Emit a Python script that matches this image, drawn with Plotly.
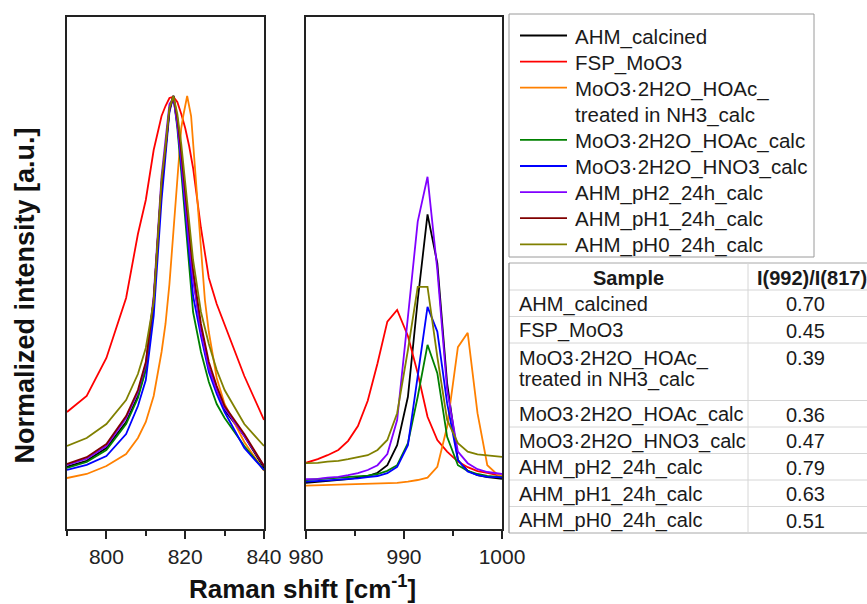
import plotly.graph_objects as go

W, H = 867, 604

# ---------------- data ----------------
names = ["AHM_calcined", "FSP_MoO3", "MoO3·2H2O_HOAc_<br>treated in NH3_calc",
         "MoO3·2H2O_HOAc_calc", "MoO3·2H2O_HNO3_calc", "AHM_pH2_24h_calc",
         "AHM_pH1_24h_calc", "AHM_pH0_24h_calc"]
colors = ["#000000", "#ff0000", "#ff8000", "#008000", "#0000ff", "#8000ff", "#800000", "#808000"]

# left panel (790-840 cm-1)
x_left = [790, 795, 800, 805, 808, 810, 812, 814, 815, 816, 817, 818, 819, 820, 821, 822, 824, 826, 828, 830, 835, 840]
left_black = [0.073, 0.088, 0.12, 0.185, 0.25, 0.32, 0.49, 0.78, 0.865, 0.965, 1.0, 0.94, 0.85, 0.74, 0.64, 0.55, 0.415, 0.32, 0.265, 0.215, 0.15, 0.07]
left_red = [0.21, 0.25, 0.345, 0.495, 0.655, 0.74, 0.865, 0.95, 0.975, 0.995, 0.998, 0.985, 0.955, 0.92, 0.875, 0.82, 0.67, 0.545, 0.48, 0.43, 0.3, 0.19]
left_green = [0.07, 0.085, 0.115, 0.18, 0.245, 0.315, 0.48, 0.78, 0.87, 0.97, 1.0, 0.92, 0.81, 0.69, 0.56, 0.46, 0.36, 0.285, 0.23, 0.195, 0.125, 0.065]
left_blue = [0.065, 0.078, 0.1, 0.155, 0.225, 0.29, 0.45, 0.74, 0.85, 0.96, 1.0, 0.93, 0.83, 0.72, 0.61, 0.5, 0.4, 0.31, 0.255, 0.21, 0.12, 0.065]
left_purple = [0.078, 0.093, 0.125, 0.195, 0.26, 0.33, 0.5, 0.8, 0.89, 0.98, 0.995, 0.93, 0.84, 0.73, 0.63, 0.54, 0.41, 0.32, 0.265, 0.22, 0.15, 0.075]
left_darkred = [0.08, 0.097, 0.13, 0.2, 0.265, 0.335, 0.49, 0.78, 0.87, 0.965, 1.0, 0.945, 0.86, 0.755, 0.655, 0.565, 0.43, 0.335, 0.275, 0.225, 0.155, 0.075]
left_olive = [0.125, 0.145, 0.18, 0.24, 0.305, 0.37, 0.485, 0.79, 0.875, 0.97, 1.0, 0.955, 0.88, 0.78, 0.68, 0.59, 0.46, 0.38, 0.315, 0.265, 0.18, 0.125]
x_left_orange = [790, 795, 800, 805, 808, 810, 812, 814, 815, 816, 817, 818, 819, 819.5, 820.5, 821.5, 823, 824, 825, 826, 828, 830, 835, 840]
left_orange = [0.045, 0.055, 0.075, 0.105, 0.145, 0.185, 0.25, 0.36, 0.43, 0.53, 0.66, 0.79, 0.92, 0.95, 1.0, 0.95, 0.74, 0.62, 0.49, 0.41, 0.295, 0.23, 0.135, 0.063]

# right panel (980-1000 cm-1)
x_right = [980.0, 981.2, 982.2, 983.3, 984.3, 985.3, 986.3, 987.3, 988.3, 989.3, 990.4, 991.4, 992.4, 993.4, 994.4, 995.5, 996.5, 997.5, 998.5, 999.6, 1000.0]
right_black = [0.033, 0.035, 0.037, 0.04, 0.042, 0.046, 0.05, 0.058, 0.077, 0.127, 0.248, 0.49, 0.704, 0.582, 0.282, 0.09, 0.063, 0.052, 0.047, 0.044, 0.043]
right_red = [0.083, 0.092, 0.102, 0.115, 0.138, 0.175, 0.238, 0.332, 0.436, 0.465, 0.4, 0.307, 0.198, 0.14, 0.111, 0.086, 0.072, 0.062, 0.058, 0.052, 0.05]
right_orange = [0.026, 0.027, 0.027, 0.028, 0.028, 0.029, 0.03, 0.031, 0.032, 0.033, 0.036, 0.04, 0.046, 0.073, 0.173, 0.372, 0.408, 0.207, 0.077, 0.052, 0.05]
right_green = [0.04, 0.042, 0.043, 0.045, 0.047, 0.048, 0.051, 0.055, 0.063, 0.077, 0.132, 0.248, 0.378, 0.307, 0.148, 0.077, 0.063, 0.055, 0.05, 0.048, 0.047]
right_blue = [0.036, 0.037, 0.039, 0.041, 0.042, 0.044, 0.047, 0.05, 0.057, 0.073, 0.127, 0.298, 0.473, 0.411, 0.232, 0.09, 0.061, 0.052, 0.048, 0.047, 0.046]
right_purple = [0.042, 0.043, 0.046, 0.048, 0.052, 0.057, 0.065, 0.077, 0.105, 0.19, 0.448, 0.686, 0.798, 0.565, 0.265, 0.111, 0.082, 0.067, 0.06, 0.057, 0.055]
right_olive = [0.082, 0.083, 0.086, 0.088, 0.092, 0.097, 0.102, 0.115, 0.14, 0.207, 0.365, 0.523, 0.523, 0.348, 0.19, 0.132, 0.111, 0.104, 0.101, 0.098, 0.098]

# table
table_samples = ["AHM_calcined", "FSP_MoO3", "MoO3·2H2O_HOAc_<br>treated in NH3_calc",
                 "MoO3·2H2O_HOAc_calc", "MoO3·2H2O_HNO3_calc", "AHM_pH2_24h_calc",
                 "AHM_pH1_24h_calc", "AHM_pH0_24h_calc"]
table_ratios = ["0.70", "0.45", "0.39", "0.36", "0.47", "0.79", "0.63", "0.51"]
table_header = ["Sample", "I(992)/I(817)"]

left_series = [(x_left, left_black), (x_left, left_red), (x_left_orange, left_orange), (x_left, left_green),
               (x_left, left_blue), (x_left, left_purple), (x_left, left_darkred), (x_left, left_olive)]
right_series = [right_black, right_red, right_orange, right_green, right_blue, right_purple, None, right_olive]

FONT = "Liberation Sans, Arial, sans-serif"
TXT = "#1a1a1a"


def px(x):
    return x / W


def py(y):
    return 1 - y / H


fig = go.Figure()
for i, (nm, col) in enumerate(zip(names, colors)):
    xs, ys = left_series[i]
    fig.add_trace(go.Scatter(x=xs, y=ys, mode="lines", name=nm.replace("<br>", ""), showlegend=False,
                             line=dict(color=col, width=1.8), xaxis="x", yaxis="y"))
for i, (nm, col) in enumerate(zip(names, colors)):
    ys = right_series[i]
    if ys is None:
        continue
    fig.add_trace(go.Scatter(x=x_right, y=ys, mode="lines", name=nm.replace("<br>", ""), showlegend=False,
                             line=dict(color=col, width=1.8), xaxis="x2", yaxis="y2"))

shapes = []
annotations = []

# ---------- legend (box, sample lines, labels) ----------
LEG_L, LEG_T, LEG_R, LEG_B = 509, 14, 814, 257
shapes.append(dict(type="rect", xref="paper", yref="paper", x0=px(LEG_L), x1=px(LEG_R), y0=py(LEG_B), y1=py(LEG_T),
                   line=dict(color="#9a9a9a", width=1), fillcolor="white", layer="above"))
row = 0
for nm, col in zip(names, colors):
    lines = nm.split("<br>")
    yc = 35.5 + 26.1 * row
    shapes.append(dict(type="line", xref="paper", yref="paper", x0=px(520), x1=px(567), y0=py(yc), y1=py(yc),
                       line=dict(color=col, width=1.8), layer="above"))
    for k, t in enumerate(lines):
        annotations.append(dict(text=t, x=px(573), y=py(35.5 + 26.1 * (row + k) + 1), xref="paper", yref="paper",
                                showarrow=False, xanchor="left", yanchor="middle",
                                font=dict(family=FONT, size=20.5, color=TXT)))
    row += len(lines)

# ---------- table ----------
TB_L, TB_T, TB_MID = 509, 263, 748
HDR_H, ROW_H, LINE_GAP = 27, 26.5, 21
edges = [TB_T, TB_T + HDR_H]
for s in table_samples:
    n = len(s.split("<br>"))
    edges.append(edges[-1] + (ROW_H if n == 1 else 57.5))
for j, e in enumerate(edges):
    outer = j in (0, len(edges) - 1)
    shapes.append(dict(type="line", xref="paper", yref="paper", x0=px(TB_L), x1=1.0, y0=py(e), y1=py(e),
                       line=dict(color="#a8a8a8" if outer else "#d6d6d6", width=1)))
shapes.append(dict(type="line", xref="paper", yref="paper", x0=px(TB_MID), x1=px(TB_MID),
                   y0=py(edges[0]), y1=py(edges[-1]), line=dict(color="#d6d6d6", width=1)))
shapes.append(dict(type="line", xref="paper", yref="paper", x0=px(TB_L), x1=px(TB_L),
                   y0=py(edges[0]), y1=py(edges[-1]), line=dict(color="#8a8a8a", width=1.2)))

hy = TB_T + HDR_H / 2 + 1
annotations.append(dict(text="<b>%s</b>" % table_header[0], x=px((TB_L + TB_MID) / 2), y=py(hy), xref="paper",
                        yref="paper", showarrow=False, xanchor="center", yanchor="middle",
                        font=dict(family=FONT, size=20, color=TXT)))
annotations.append(dict(text="<b>%s</b>" % table_header[1], x=px(812), y=py(hy), xref="paper",
                        yref="paper", showarrow=False, xanchor="center", yanchor="middle",
                        font=dict(family=FONT, size=20, color=TXT)))
for r, (s, v) in enumerate(zip(table_samples, table_ratios)):
    top = edges[r + 1]
    parts = s.split("<br>")
    first = top + (ROW_H / 2 if len(parts) == 1 else 14) + 1
    for k, t in enumerate(parts):
        annotations.append(dict(text=t, x=px(517), y=py(first + LINE_GAP * k), xref="paper", yref="paper",
                                showarrow=False, xanchor="left", yanchor="middle",
                                font=dict(family=FONT, size=20, color=TXT)))
    annotations.append(dict(text=v, x=px(805), y=py(first), xref="paper", yref="paper",
                            showarrow=False, xanchor="center", yanchor="middle",
                            font=dict(family=FONT, size=20, color=TXT)))

# ---------- axis titles ----------
annotations.append(dict(text="<b>Normalized intensity [a.u.]</b>", x=px(24), y=py(295.5), xref="paper",
                        yref="paper", textangle=-90, showarrow=False, xanchor="center", yanchor="middle",
                        font=dict(family=FONT, size=27, color="#111")))
annotations.append(dict(text="<b>Raman shift [cm<sup>-1</sup>]</b>", x=px(302), y=py(587), xref="paper",
                        yref="paper", showarrow=False, xanchor="center", yanchor="middle",
                        font=dict(family=FONT, size=26, color="#111")))

ydom = [py(529), py(17)]
yrange = [-0.0825, 1.1975]
axcommon = dict(showgrid=False, zeroline=False, showline=True, mirror=True, linecolor="#222",
                linewidth=1.5, ticks="outside", ticklen=8, tickwidth=1.5, tickcolor="#222", automargin=False,
                tickfont=dict(family=FONT, size=21, color="#222"))
yaxcommon = dict(domain=ydom, range=yrange, showgrid=False, zeroline=False, showticklabels=False,
                 showline=True, mirror=True, linecolor="#222", linewidth=1.5, ticks="", automargin=False)
fig.update_layout(
    width=W, height=H, margin=dict(l=0, r=0, t=0, b=0, autoexpand=False),
    paper_bgcolor="white", plot_bgcolor="white", showlegend=False,
    xaxis=dict(domain=[px(67), px(264)], range=[790, 840], tick0=800, dtick=20,
               minor=dict(dtick=10, tick0=790, ticks="outside", ticklen=5, tickwidth=1.5, tickcolor="#222"),
               **axcommon),
    xaxis2=dict(domain=[px(306), px(502)], range=[980, 1000], tick0=980, dtick=10, anchor="y2",
                minor=dict(dtick=5, tick0=980, ticks="outside", ticklen=5, tickwidth=1.5, tickcolor="#222"),
                **axcommon),
    yaxis=dict(**yaxcommon),
    yaxis2=dict(anchor="x2", matches="y", **yaxcommon),
    shapes=shapes,
    annotations=annotations,
)

fig.write_html("out.html")
